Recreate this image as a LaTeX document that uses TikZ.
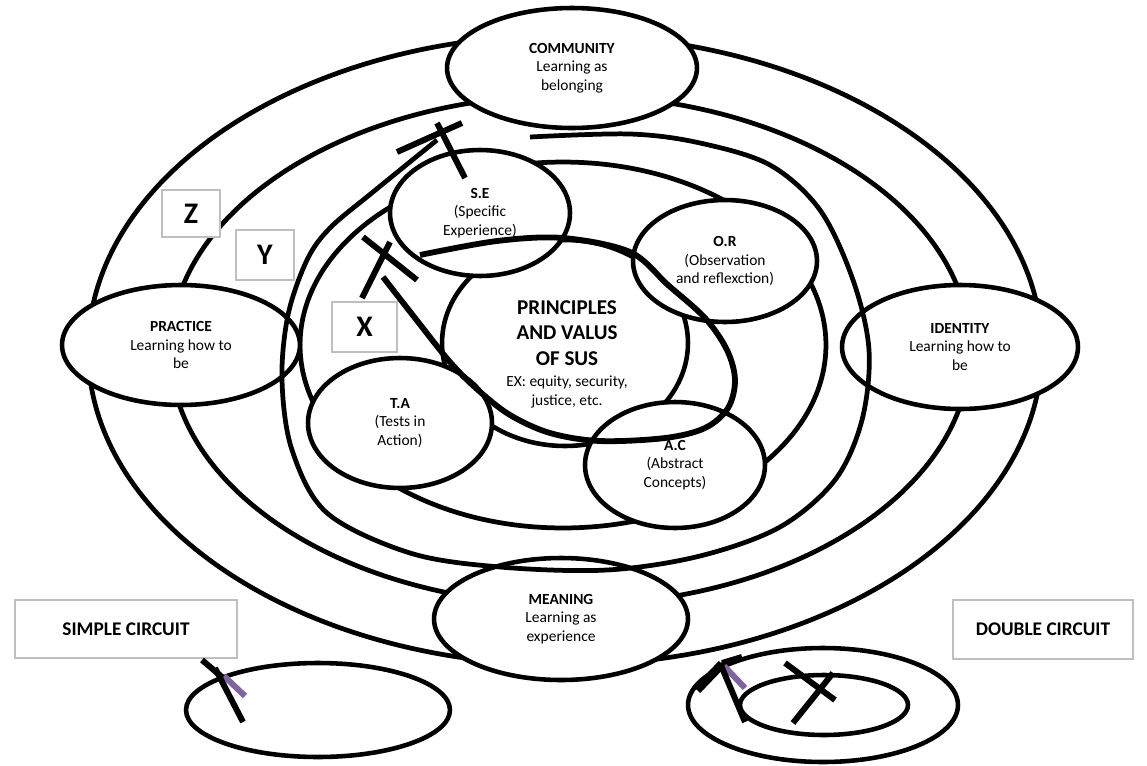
\documentclass[tikz,border=0pt]{standalone}
\usepackage{fontspec}
\setmainfont{Carlito}
\usetikzlibrary{shapes.geometric}
\definecolor{lilac}{HTML}{8064A2}
\definecolor{boxgray}{HTML}{BFBFBF}
\begin{document}
\begin{tikzpicture}[x=0.02cm,y=-0.02cm,
  ring/.style={line width=2.7pt},
  lab/.style={ellipse, draw, line width=2.6pt, fill=white, inner sep=0pt, align=center,
    font=\fontsize{8.8}{10.6}\selectfont},
  bar/.style={line width=3.4pt},
  loopline/.style={line width=3.3pt},
  tag/.style={draw=boxgray, line width=1.2pt, fill=white, inner sep=0pt},
]
\useasboundingbox (0,0) rectangle (1147,765);
% concentric rings
\draw[ring] (565,350) ellipse [x radius=9.54cm, y radius=6.3cm];
\draw[ring] (570,350) ellipse [x radius=8cm, y radius=5.1cm];
\draw[ring] (563,345) ellipse [x radius=5.26cm, y radius=3.66cm];
% centre
\node[lab, minimum width=4.92cm, minimum height=4.12cm] (core) at (565,343) {};
% label ellipses
\node[lab, minimum width=5.0cm, minimum height=2.4cm] (comm) at (572,68) {\textbf{COMMUNITY}\\Learning as\\belonging};
\node[lab, minimum width=4.76cm, minimum height=2.4cm] (prac) at (181,345) {\textbf{PRACTICE}\\Learning how to\\be};
\node[lab, minimum width=4.72cm, minimum height=2.48cm] (iden) at (960,347) {\textbf{IDENTITY}\\Learning how to\\be};
\node[lab, minimum width=5.08cm, minimum height=2.44cm] (mean) at (561,619) {\textbf{MEANING}\\Learning as\\experience};
\node[lab, minimum width=3.6cm, minimum height=2.52cm] (se) at (480,213) {\textbf{S.E}\\(Specific\\Experience)};
\node[lab, minimum width=3.68cm, minimum height=2.44cm] (or) at (725,261) {\textbf{O.R}\\(Observation\\and reflexction)};
\node[lab, minimum width=3.68cm, minimum height=2.6cm] (ta) at (400,423) {\textbf{T.A}\\(Tests in\\Action)};
\node[lab, minimum width=3.6cm, minimum height=2.52cm] (ac) at (675,465) {\textbf{A.C}\\(Abstract\\Concepts)};
% centre text
\node[align=center, inner sep=0pt, font=\fontsize{12}{14.6}\selectfont\bfseries] (ct1) at (567,333) {PRINCIPLES\\AND VALUS\\OF SUS};
\node[align=center, inner sep=0pt, font=\fontsize{8.8}{11.2}\selectfont] (ct2) at (567,392) {EX: equity, security,\\justice, etc.};
% outer spiral (circuit)
\draw[ring] plot[smooth, tension=0.55] coordinates {(530,137) (630,134) (700,143) (770,165) (820,210) (853,280) (869,350) (862,420) (835,480) (780,527) (700,556) (607,570) (500,567) (410,553) (327,513) (292,450) (282,380) (288,315) (307,260) (330,228) (373,192) (437,140)};
% inner loop
\draw[loopline] plot[smooth, tension=0.55] coordinates {(420,255) (497,241) (563,238) (630,252) (668,285) (705,318) (727,350) (735,380) (728,408) (705,428) (665,438) (600,441) (550,433) (510,415) (478,390) (450,362) (415,318) (383,277)};
% stop marks
\draw[bar] (397,152) -- (462,123);
\draw[bar] (437,123) -- (465,178);
\draw[bar] (363,237) -- (417,280);
\draw[bar] (390,242) -- (362,298);
% letter boxes
\node[tag, minimum width=1.16cm, minimum height=0.94cm, font=\fontsize{17}{17}\selectfont\bfseries] (z) at (191,213.5) {Z};
\node[tag, minimum width=1.16cm, minimum height=1.0cm, font=\fontsize{17}{17}\selectfont\bfseries] (y) at (265,255) {Y};
\node[tag, minimum width=1.3cm, minimum height=1.0cm, font=\fontsize{17}{17}\selectfont\bfseries] (xb) at (364.5,327) {X};
% legend boxes
\node[tag, minimum width=4.44cm, minimum height=1.16cm, font=\fontsize{11}{11}\selectfont\bfseries] (simple) at (126,629) {SIMPLE CIRCUIT};
\node[tag, minimum width=3.6cm, minimum height=1.18cm, font=\fontsize{11}{11}\selectfont\bfseries] (double) at (1043,629.5) {DOUBLE CIRCUIT};
% simple circuit
\node[ellipse, draw, line width=2.6pt, minimum width=5.28cm, minimum height=1.88cm] (sc) at (318,710) {};
\draw[lilac, line width=3.4pt] (224,676) -- (245,696);
\draw[bar] (202,660) -- (222,677);
\draw[bar] (215,668) -- (243,722);
% double circuit
\node[ellipse, draw, line width=2.6pt, minimum width=5.4cm, minimum height=2.28cm] (dco) at (823,705) {};
\node[ellipse, draw, line width=2.6pt, minimum width=3.36cm, minimum height=1.2cm] (dci) at (824,705) {};
\draw[line width=5pt] (697,690) -- (722,664);
\draw[bar] (722,663) -- (742,657);
\draw[lilac, line width=3.4pt] (724,666) -- (745,688);
\draw[bar] (720,663) -- (745,722);
\draw[bar] (785,663) -- (835,700);
\draw[bar] (833,673) -- (793,723);
\end{tikzpicture}
\end{document}
